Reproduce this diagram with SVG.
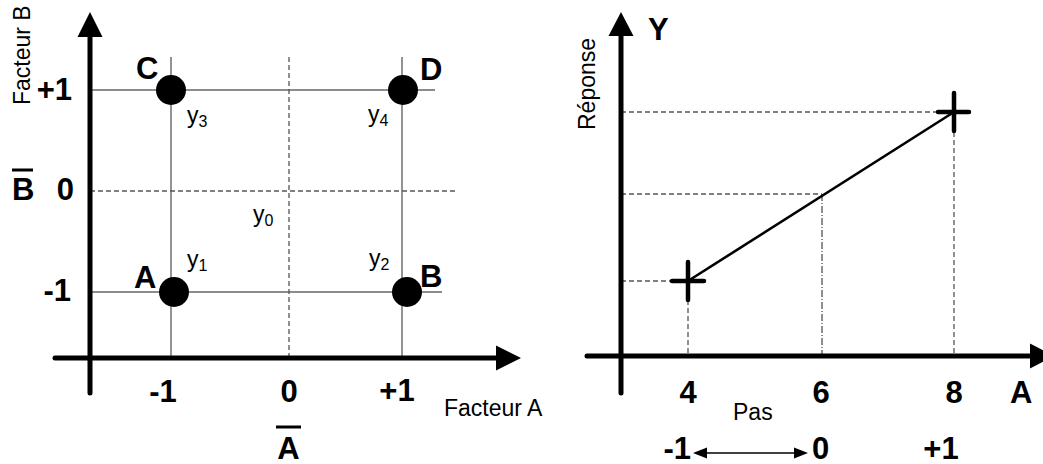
<svg xmlns="http://www.w3.org/2000/svg" width="1043" height="464" viewBox="0 0 1043 464">
<style>
.ax{stroke:#000;stroke-width:5;stroke-linecap:round;fill:none}
.ah{fill:#000;stroke:none}
.grid{stroke:#666;stroke-width:1.4;fill:none}
.dash{stroke:#555;stroke-width:1.3;stroke-dasharray:5,3;fill:none}
.dd{stroke:#555;stroke-width:1.3;stroke-dasharray:7,2,1,2;fill:none}
.b{font-family:"Liberation Sans",Arial,sans-serif;font-weight:bold;font-size:31px;fill:#000}
.r{font-family:"Liberation Sans",Arial,sans-serif;font-size:23px;fill:#000}
.s{font-size:16px}
.cross{stroke:#000;stroke-width:4.5;stroke-linecap:round;fill:none}
.pt{fill:#000}
</style>
<rect width="1043" height="464" fill="#fff"/>
<g id="connectors">
  <line class="grid" x1="171" y1="57" x2="171" y2="358"/>
  <line class="grid" x1="402" y1="57" x2="402" y2="358"/>
  <line class="grid" x1="90" y1="90" x2="435" y2="90"/>
  <line class="grid" x1="90" y1="292" x2="442" y2="292"/>
  <line class="dash" x1="289" y1="57" x2="289" y2="358"/>
  <line class="dash" x1="90" y1="191" x2="455" y2="191"/>
  <line class="ax" x1="90" y1="34" x2="90" y2="393"/>
  <polygon class="ah" points="90,12 77.5,37 102.5,37"/>
  <line class="ax" x1="55" y1="358" x2="498" y2="358"/>
  <polygon class="ah" points="521,358 496,345.5 496,370.5"/>
  <line class="dash" x1="621" y1="112" x2="954" y2="112"/>
  <line class="dash" x1="621" y1="194" x2="822" y2="194"/>
  <line class="dash" x1="621" y1="281" x2="688" y2="281"/>
  <line class="dash" x1="688" y1="300" x2="688" y2="356"/>
  <line class="dd" x1="822" y1="194" x2="822" y2="356"/>
  <line class="dash" x1="954" y1="132" x2="954" y2="356"/>
  <line x1="688" y1="281" x2="954" y2="112" stroke="#000" stroke-width="2.6"/>
  <line class="ax" x1="621" y1="34" x2="621" y2="393"/>
  <polygon class="ah" points="621,12 608.5,36 633.5,36"/>
  <line class="ax" x1="587" y1="356" x2="1032" y2="356"/>
  <polygon class="ah" points="1054,356 1030,343.5 1030,368.5"/>
  <line x1="700" y1="453" x2="801" y2="453" stroke="#000" stroke-width="1.5"/>
  <polygon class="ah" points="693,453 707,447.5 707,458.5"/>
  <polygon class="ah" points="808,453 794,447.5 794,458.5"/>
</g>
<g id="pointC"><circle class="pt" cx="171" cy="90" r="15"/><text class="b" x="136" y="79">C</text><text class="r" x="187" y="123">y<tspan class="s" dy="4">3</tspan></text></g>
<g id="pointD"><circle class="pt" cx="403" cy="90" r="15"/><text class="b" x="420" y="80">D</text><text class="r" x="368" y="122">y<tspan class="s" dy="4">4</tspan></text></g>
<g id="pointA"><circle class="pt" cx="174" cy="292" r="15"/><text class="b" x="134" y="288">A</text><text class="r" x="187" y="267">y<tspan class="s" dy="4">1</tspan></text></g>
<g id="pointB"><circle class="pt" cx="407" cy="292" r="15"/><text class="b" x="420" y="287">B</text><text class="r" x="369" y="266">y<tspan class="s" dy="4">2</tspan></text></g>
<g id="center"><text class="r" x="253" y="222">y<tspan class="s" dy="4">0</tspan></text></g>
<g id="leftLabels">
  <text class="r" transform="translate(30,105) rotate(-90)">Facteur B</text>
  <text class="b" x="72" y="100" text-anchor="end">+1</text>
  <text class="b" x="74" y="200" text-anchor="end">0</text>
  <text class="b" x="71" y="301" text-anchor="end">-1</text>
  <text class="b" x="12" y="200">B</text>
  <line x1="12" y1="170" x2="33" y2="170" stroke="#000" stroke-width="3"/>
  <text class="b" x="163" y="402" text-anchor="middle">-1</text>
  <text class="b" x="289" y="402" text-anchor="middle">0</text>
  <text class="b" x="397" y="401" text-anchor="middle">+1</text>
  <text class="r" x="444" y="416">Facteur A</text>
  <text class="b" x="288.5" y="459" text-anchor="middle">A</text>
  <line x1="276" y1="427" x2="301" y2="427" stroke="#000" stroke-width="3"/>
</g>
<g id="cross1"><path class="cross" d="M672,281 H704 M688,262 V300"/></g>
<g id="cross2"><path class="cross" d="M938,112 H969 M954,93 V131"/></g>
<g id="rightLabels">
  <text class="b" x="648" y="40">Y</text>
  <text class="r" transform="translate(595,130) rotate(-90)">Réponse</text>
  <text class="b" x="688" y="403" text-anchor="middle">4</text>
  <text class="b" x="821" y="403" text-anchor="middle">6</text>
  <text class="b" x="954" y="403" text-anchor="middle">8</text>
  <text class="b" x="1010" y="403">A</text>
  <text class="r" x="733" y="420">Pas</text>
  <text class="b" x="691" y="459" text-anchor="end">-1</text>
  <text class="b" x="812" y="459">0</text>
  <text class="b" x="941" y="459" text-anchor="middle">+1</text>
</g>
</svg>
